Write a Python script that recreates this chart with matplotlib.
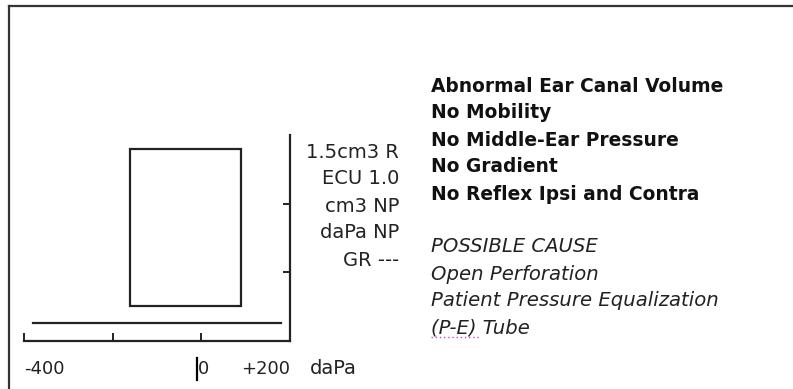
import matplotlib
matplotlib.use("Agg")
import matplotlib.pyplot as plt
from matplotlib.patches import Rectangle
from matplotlib.lines import Line2D

# tympanogram: flat trace, pressure (daPa) vs compliance (cm3)
pressure = [-380, -300, -200, -100, 0, 100, 180]
compliance = [0.13, 0.13, 0.13, 0.13, 0.13, 0.13, 0.13]

# normal region box
box_pressure = [-160, 90]
box_compliance = [0.25, 1.4]

x_ticks = [-400, -200, 0]
y_ticks = [0.5, 1.0]
x_tick_labels = ["-400", "0", "+200"]
x_tick_values = [-400, 0, 200]

readout = ["1.5cm3 R", "ECU 1.0", "cm3 NP", "daPa NP", "GR ---"]
findings = ["Abnormal Ear Canal Volume", "No Mobility", "No Middle-Ear Pressure",
            "No Gradient", "No Reflex Ipsi and Contra"]
causes = ["POSSIBLE CAUSE", "Open Perforation",
          "Patient Pressure Equalization", "(P-E) Tube"]

W, H = 793, 389
ink = "#222222"
plt.rcParams["font.family"] = "DejaVu Sans"

fig = plt.figure(figsize=(W / 100, H / 100), dpi=100)


def fx(px):
    return px / W


def fy(py):
    return 1 - py / H


# outer frame (top and left edges)
fig.add_artist(Line2D([fx(9), fx(9)], [fy(6), fy(H + 5)], color="#333333", lw=1.6))
fig.add_artist(Line2D([fx(9), fx(W + 5)], [fy(6), fy(6)], color="#333333", lw=1.6))

ax = fig.add_axes([fx(24), fy(340.5), (290 - 24) / W, (340.5 - 135) / H])
ax.set_xlim(-400, 200)
ax.set_ylim(0, 1.5)
ax.patch.set_alpha(0)
for side in ["left", "top"]:
    ax.spines[side].set_visible(False)
for side in ["bottom", "right"]:
    ax.spines[side].set_color(ink)
    ax.spines[side].set_linewidth(1.6)

ax.set_xticks(x_ticks)
ax.set_yticks(y_ticks)
ax.xaxis.set_ticks_position("bottom")
ax.yaxis.set_ticks_position("right")
ax.tick_params(axis="x", direction="in", length=6, width=1.4, color=ink,
               labelbottom=False)
ax.tick_params(axis="y", direction="in", length=5, width=1.4, color=ink,
               labelright=False, labelleft=False)

ax.plot(pressure, compliance, color=ink, lw=1.6, clip_on=False)
ax.add_patch(Rectangle((box_pressure[0], box_compliance[0]),
                       box_pressure[1] - box_pressure[0],
                       box_compliance[1] - box_compliance[0],
                       fill=False, edgecolor=ink, lw=1.6))

# pressure labels under the axis
label_tf = ax.get_xaxis_transform()
aligns = ["left", "center", "right"]
for val, txt, ha in zip(x_tick_values, x_tick_labels, aligns):
    ax.text(val + (4 if ha == "center" else 0), -0.139, txt, transform=label_tf,
            ha=ha, va="center", fontsize=13, color=ink)
fig.text(fx(310), fy(369), "daPa", ha="left", va="center", fontsize=14, color=ink)
fig.add_artist(Line2D([fx(197), fx(197)], [fy(358), fy(380)], color="black", lw=1.6))

# readout beside the vertical axis
for i, txt in enumerate(readout):
    fig.text(fx(399), fy(152 + 27 * i), txt, ha="right", va="center",
             fontsize=14, color=ink)

for i, txt in enumerate(findings):
    fig.text(fx(431), fy(86 + 27 * i), txt, ha="left", va="center",
             fontsize=13.45, fontweight="bold", color="#111111")

for i, txt in enumerate(causes):
    fig.text(fx(431), fy(247 + 27 * i), txt, ha="left", va="center",
             fontsize=14.1, fontstyle="italic", color=ink)

# spell-check squiggle under "(P-E)"
fig.add_artist(Line2D([fx(431), fx(481)], [fy(337), fy(337)], color="#d040d0",
                      lw=1.0, ls=(0, (1, 2))))

fig.savefig("out.png", dpi=100)
